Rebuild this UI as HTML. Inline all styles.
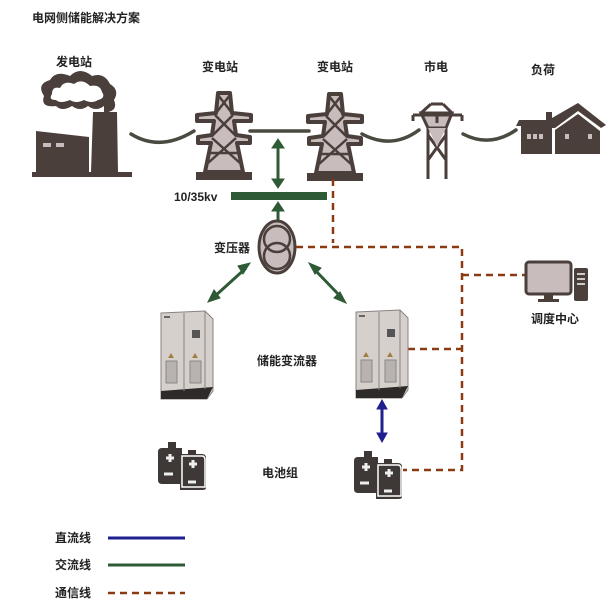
<!DOCTYPE html>
<html><head><meta charset="utf-8"><style>
html,body{margin:0;padding:0;background:#fff;}
svg text{font-family:"Liberation Sans","Noto Sans CJK SC",sans-serif;font-weight:bold;fill:#222;}
</style></head><body>
<svg width="616" height="604" viewBox="0 0 616 604" xmlns="http://www.w3.org/2000/svg">
<defs>
<g id="tower">
  <polygon points="-6,0 6,0 8,20 27,22 27,28 10,28 12,42 26,44 26,50 13,50 19,79 -19,79 -13,50 -26,50 -26,44 -12,42 -10,28 -27,28 -27,22 -8,20" fill="#c8bcbc" stroke="#4a3f3b" stroke-width="4" stroke-linejoin="round"/>
  <path d="M-6,2 L8,20 M6,2 L-8,20 M-9,22 L11,42 M9,22 L-11,42 M-12,45 L16,70 M12,45 L-16,70 M-14,60 L14,60" stroke="#4a3f3b" stroke-width="2.5" fill="none"/>
  <rect x="-28" y="79" width="56" height="8" fill="#4a3f3b"/>
</g>
<g id="cab">
  <polygon points="0,0 44,-2 52,6 52,78 46,86 0,86" fill="#d6d0cd" stroke="#8a8280" stroke-width="1"/>
  <polygon points="0,78 52,74 46,86 0,86" fill="#2e2a29"/>
  <line x1="23" y1="0" x2="23" y2="78" stroke="#8a8280"/>
  <line x1="44" y1="-2" x2="44" y2="76" stroke="#8a8280"/>
  <rect x="5" y="48" width="11" height="22" fill="#b8b2b0" stroke="#888"/>
  <rect x="29" y="48" width="11" height="22" fill="#b8b2b0" stroke="#888"/>
  <rect x="31" y="17" width="8" height="8" fill="#555"/>
  <rect x="3" y="3" width="6" height="2" fill="#666"/>
  <polygon points="10,40 13,45 7,45" fill="#a08040"/><polygon points="34,40 37,45 31,45" fill="#a08040"/>
</g>
<g id="bat">
  <path d="M4,8 L10,8 L10,2 L18,2 L18,8 L24,8 L24,14 L30,14 L30,10 L38,10 L38,14 L44,14 Q48,14 48,18 L48,48 Q48,50 44,50 L22,50 L22,44 L4,44 Q0,44 0,40 L0,12 Q0,8 4,8 Z" fill="#3e3937"/>
  <path d="M24,16 L44,16 Q47,16 47,20 L47,47 L24,47 Z" fill="#3e3937" stroke="#fff" stroke-width="1.5"/>
  <path d="M8,18 h8 M12,14 v8 M31,24 h8 M35,20 v8 M6,34 h9 M30,42 h8" stroke="#eee" stroke-width="3"/>
</g>
</defs>

<text x="32" y="22" font-size="12">电网侧储能解决方案</text>
<text x="56" y="66" font-size="12">发电站</text>
<text x="202" y="71" font-size="12">变电站</text>
<text x="317" y="71" font-size="12">变电站</text>
<text x="424" y="71" font-size="12">市电</text>
<text x="531" y="74" font-size="12">负荷</text>

<!-- factory -->
<g fill="#4a3f3b">
  <path d="M44,96 Q36,84 50,80 Q56,70 70,76 Q80,66 92,76 Q104,72 110,84 Q120,90 114,100 Q118,110 108,112 L104,106 Q96,112 88,106 Q80,112 72,106 Q62,112 56,106 Q40,108 44,96 Z"/>
  <polygon points="36,131 89,137 89,172 36,172"/>
  <polygon points="93,112 117,112 118,172 91,172"/>
  <rect x="104" y="104" width="5" height="10"/>
  <rect x="32" y="172" width="100" height="5"/>
</g>
<path d="M52,94 Q52,86 60,88 Q64,80 74,84 Q82,78 90,86 Q100,84 102,92 Q106,98 98,100 Q92,104 84,100 Q76,104 70,100 Q60,104 56,100 Q48,100 52,94 Z" fill="#fff"/>
<rect x="43" y="143" width="8" height="4" fill="#c8bcbc"/><rect x="56" y="143" width="8" height="4" fill="#c8bcbc"/>

<!-- wires -->
<g fill="none" stroke="#4a4a40" stroke-width="3.5" stroke-linecap="round">
  <path d="M131,134 Q160,152 194,131"/>
  <path d="M250,131 L309,131"/>
  <path d="M362,134 Q392,150 419,130"/>
  <path d="M463,134 Q490,148 516,130"/>
</g>

<use href="#tower" x="224" y="93"/>
<use href="#tower" x="335" y="94"/>

<!-- pole -->
<g stroke="#4a3f3b" stroke-width="3" fill="none">
  <polygon points="421,113 452,113 446,128 428,128" fill="#c8bcbc"/>
  <path d="M413,115 L462,115 M413,115 v6 M462,115 v6 M431,104 L443,104 M431,104 L421,113 M443,104 L452,113"/>
  <path d="M428,128 L428,179 M446,128 L446,179 M428,135 L446,160 M446,135 L428,160 M437,113 v10"/>
</g>
<polygon points="428,128 446,128 437,147" fill="#c8bcbc"/>

<!-- house -->
<g fill="#4a3f3b">
  <polygon points="519,120 546,120 546,112 552,112 552,118 578,103 606,125 601,128 578,111 555,128 552,128 552,154 521,154 521,126 516,126"/>
  <polygon points="555,130 578,114 600,131 600,154 555,154"/>
</g>
<rect x="527" y="134" width="4" height="5" fill="#c8bcbc"/><rect x="533" y="134" width="4" height="5" fill="#c8bcbc"/><rect x="539" y="134" width="4" height="5" fill="#c8bcbc"/>
<rect x="565" y="134" width="4" height="5" fill="#c8bcbc"/><rect x="588" y="134" width="4" height="5" fill="#c8bcbc"/>

<!-- green AC -->
<g stroke="#2e5b36" fill="#2e5b36">
  <line x1="278" y1="146" x2="278" y2="181" stroke-width="3"/>
  <polygon points="272,148 278,139 284,148"/><polygon points="272,179 278,188 284,179"/>
  <rect x="231" y="192" width="96" height="8" stroke="none"/>
  <line x1="278" y1="210" x2="278" y2="224" stroke-width="3"/>
  <polygon points="272,211 278,202 284,211"/>
  <line x1="246" y1="268" x2="214" y2="297" stroke-width="3"/>
  <polygon points="250,263 243,274 238,266"/><polygon points="208,302 214,290 220,298"/>
  <line x1="314" y1="269" x2="341" y2="297" stroke-width="3"/>
  <polygon points="309,263 321,268 315,274"/><polygon points="346,303 334,298 340,292"/>
</g>
<text x="174" y="201" font-size="12">10/35kv</text>

<!-- transformer -->
<ellipse cx="277" cy="247" rx="18" ry="26" fill="#c8bcbc" stroke="#4a3f3b" stroke-width="3"/>
<circle cx="277" cy="239" r="13" fill="none" stroke="#4a3f3b" stroke-width="2.5"/>
<circle cx="277" cy="256" r="13" fill="none" stroke="#4a3f3b" stroke-width="2.5"/>
<text x="214" y="252" font-size="12">变压器</text>

<!-- dashed comm -->
<g stroke="#8b3a12" stroke-width="2.5" fill="none" stroke-dasharray="7,5">
  <path d="M333,179 L333,243"/>
  <path d="M296,247 L462,247 L462,470 L403,470"/>
  <path d="M462,275 L525,275"/>
  <path d="M408,349 L462,349"/>
</g>

<!-- computer -->
<rect x="526" y="262" width="45" height="32" rx="3" fill="#c8bcbc" stroke="#4a3f3b" stroke-width="3"/>
<rect x="544" y="294" width="9" height="5" fill="#4a3f3b"/><rect x="538" y="299" width="21" height="3" fill="#4a3f3b"/>
<rect x="574" y="268" width="14" height="33" rx="2" fill="#4a3f3b"/>
<rect x="577" y="273" width="8" height="2" fill="#ccc"/><rect x="577" y="278" width="8" height="2" fill="#ccc"/><rect x="577" y="283" width="8" height="2" fill="#ccc"/>
<text x="531" y="323" font-size="12">调度中心</text>

<use href="#cab" x="161" y="313"/>
<use href="#cab" x="356" y="312"/>
<text x="257" y="365" font-size="12">储能变流器</text>

<!-- blue DC -->
<g stroke="#1f1f8f" fill="#1f1f8f">
  <line x1="382" y1="408" x2="382" y2="434" stroke-width="3"/>
  <polygon points="377,409 382,400 387,409"/><polygon points="377,433 382,442 387,433"/>
</g>

<use href="#bat" x="158" y="440"/>
<use href="#bat" x="354" y="449"/>
<text x="262" y="477" font-size="12">电池组</text>

<!-- legend -->
<text x="55" y="542" font-size="12">直流线</text>
<line x1="108" y1="538" x2="185" y2="538" stroke="#1f1f8f" stroke-width="3"/>
<text x="55" y="569" font-size="12">交流线</text>
<line x1="108" y1="565" x2="185" y2="565" stroke="#2e5b36" stroke-width="3"/>
<text x="55" y="597" font-size="12">通信线</text>
<line x1="108" y1="593" x2="185" y2="593" stroke="#8b3a12" stroke-width="2.5" stroke-dasharray="7,5"/>
</svg>
</body></html>
